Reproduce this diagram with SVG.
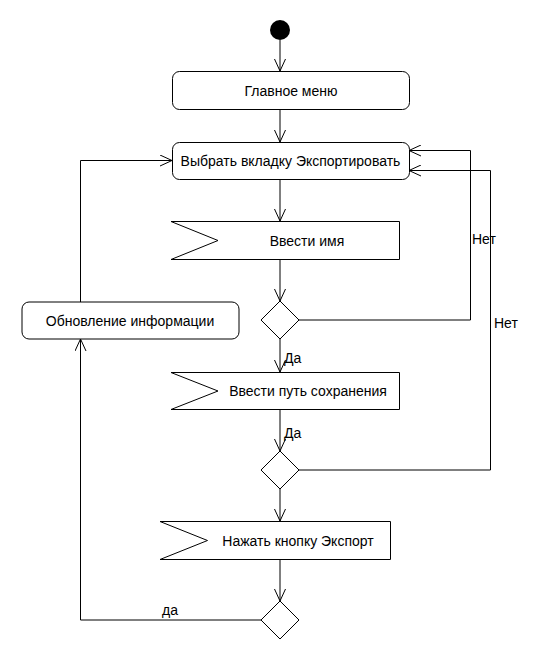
<svg xmlns="http://www.w3.org/2000/svg" width="550" height="660" viewBox="0 0 550 660">
<defs>
<style>
.s{fill:#fff;stroke:#000;stroke-width:1}
.c{fill:none;stroke:#000;stroke-width:1}
.t{font-family:"Liberation Sans",Arial,sans-serif;font-size:14px;fill:#000}
.m{text-anchor:middle}
</style>
<marker id="a" markerUnits="userSpaceOnUse" markerWidth="14" markerHeight="12" refX="12" refY="6" orient="auto">
<path d="M0,0.5 L12,6 L0,11.5" fill="none" stroke="#000" stroke-width="1"/>
</marker>
</defs>
<rect width="550" height="660" fill="#fff"/>
<g id="connectors">
<path class="c" d="M280,40 V71" marker-end="url(#a)"/>
<path class="c" d="M280,109 V142" marker-end="url(#a)"/>
<path class="c" d="M280,179 V221" marker-end="url(#a)"/>
<path class="c" d="M280,259 V301" marker-end="url(#a)"/>
<path class="c" d="M280,339 V372" marker-end="url(#a)"/>
<path class="c" d="M280,409 V451" marker-end="url(#a)"/>
<path class="c" d="M280,489 V521" marker-end="url(#a)"/>
<path class="c" d="M280,559 V601" marker-end="url(#a)"/>
<path class="c" d="M299,320 H470.5 V150.5 H409" marker-end="url(#a)"/>
<path class="c" d="M299,470 H490.5 V170.5 H409" marker-end="url(#a)"/>
<path class="c" d="M261,620 H80.5 V339" marker-end="url(#a)"/>
<path class="c" d="M80.5,302 V160.5 H172" marker-end="url(#a)"/>
<text class="t" x="472" y="244">Нет</text>
<text class="t" x="494" y="328">Нет</text>
<text class="t" x="284" y="363">Да</text>
<text class="t" x="284" y="438">Да</text>
<text class="t" x="162" y="615">да</text>
</g>
<g id="start"><circle cx="280" cy="30" r="10" fill="#000"/></g>
<g id="main-menu">
<rect class="s" x="172.5" y="71.5" width="237" height="38" rx="7"/>
<text class="t m" x="291" y="95.5">Главное меню</text>
</g>
<g id="select-tab">
<rect class="s" x="172.5" y="142.5" width="237" height="37" rx="7"/>
<text class="t m" x="290.5" y="166">Выбрать вкладку Экспортировать</text>
</g>
<g id="enter-name">
<path class="s" d="M171,221.5 H399.5 V259.5 H171 L218,240.5 Z"/>
<text class="t m" x="307" y="245.5">Ввести имя</text>
</g>
<g id="decision1"><path class="s" d="M280,301 L299,320 L280,339 L261,320 Z"/></g>
<g id="enter-path">
<path class="s" d="M171,372.5 H399.5 V409.5 H171 L218,391 Z"/>
<text class="t m" x="308" y="396">Ввести путь сохранения</text>
</g>
<g id="decision2"><path class="s" d="M280,451 L299,470 L280,489 L261,470 Z"/></g>
<g id="press-export">
<path class="s" d="M160,521.5 H390.5 V559.5 H160 L207.5,540.5 Z"/>
<text class="t m" x="298" y="545.5">Нажать кнопку Экспорт</text>
</g>
<g id="decision3"><path class="s" d="M280,601 L299,620 L280,639 L261,620 Z"/></g>
<g id="update-info">
<rect class="s" x="22" y="302" width="217" height="37" rx="7"/>
<text class="t m" x="130" y="325.5">Обновление информации</text>
</g>
</svg>
